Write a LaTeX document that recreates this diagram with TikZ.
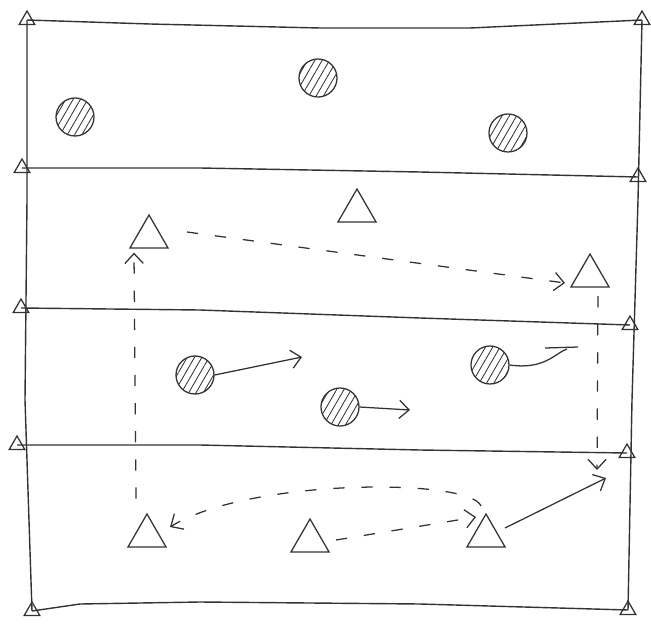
\documentclass[tikz,border=0pt]{standalone}
\usetikzlibrary{shapes.geometric, arrows.meta, patterns.meta, calc}

\begin{document}
\begin{tikzpicture}[x=0.025cm, y=-0.025cm,
  pencil/.style={draw=black!80, line width=0.9pt},
  cone/.style={pencil, regular polygon, regular polygon sides=3,
               minimum size=0.45cm, inner sep=0pt},
  attacker/.style={pencil, regular polygon, regular polygon sides=3,
                   minimum size=1.1cm, inner sep=0pt},
  defender/.style={pencil, circle, minimum size=0.95cm, inner sep=0pt,
                   pattern={Lines[angle=60, distance=4.5pt, line width=0.6pt]},
                   pattern color=black!80},
  fieldline/.style={pencil, line width=1pt},
  run/.style={pencil, -{Straight Barb[length=7pt, width=13pt]}},
  pass/.style={run, dash pattern=on 8pt off 12pt}
]
  \useasboundingbox (0,0) rectangle (651,631);

  %% Cones: left and right side of each zone line
  \node[cone] (c1)  at (27,20)   {};
  \node[cone] (c2)  at (642,20)  {};
  \node[cone] (c3)  at (22,168)  {};
  \node[cone] (c4)  at (638,177) {};
  \node[cone] (c5)  at (21,308)  {};
  \node[cone] (c6)  at (630,325) {};
  \node[cone] (c7)  at (17,445)  {};
  \node[cone] (c8)  at (627,453) {};
  \node[cone] (c9)  at (32,611)  {};
  \node[cone] (c10) at (628,610) {};

  %% Field outline and zone lines (slightly wobbly, hand drawn)
  \draw[fieldline] (c1.center) -- (150,24) -- (320,28) -- (470,28) -- (c2.center);
  \draw[fieldline] (c3.center) -- (200,168) -- (420,172) -- (c4.center);
  \draw[fieldline] (c5.center) -- (200,310) -- (420,318) -- (c6.center);
  \draw[fieldline] (c7.center) -- (200,445) -- (420,450) -- (c8.center);
  \draw[fieldline] (c9.center) -- (80,604) -- (200,602) -- (420,604) -- (c10.center);
  \draw[fieldline] (c1.center) -- (27,200) -- (25,400) -- (c9.center);
  \draw[fieldline] (c2.center) -- (638,200) -- (632,400) -- (c10.center);

  %% Defenders (hatched)
  \node[defender] (b1) at (75,117)  {};
  \node[defender] (b2) at (318,78)  {};
  \node[defender] (b3) at (508,133) {};
  \node[defender] (b4) at (195,375) {};
  \node[defender] (b5) at (490,365) {};
  \node[defender] (b6) at (340,407) {};

  %% Attackers (triangles)
  \node[attacker] (t1) at (149,237) {};
  \node[attacker] (t2) at (357,211) {};
  \node[attacker] (t3) at (590,276) {};
  \node[attacker] (t4) at (147,536) {};
  \node[attacker] (t5) at (310,541) {};
  \node[attacker] (t6) at (486,536) {};

  %% Free ends of the runs
  \coordinate (e1)  at (302,357);
  \coordinate (e2)  at (410,410);
  \coordinate (e3)  at (567,349);
  \coordinate (e3a) at (545,348);
  \coordinate (e3b) at (578,347);
  \coordinate (e4)  at (597,470);
  \coordinate (e5)  at (606,478);

  %% Defender runs
  \draw[run] (b4.east) -- (e1);
  \draw[run] (b6.east) -- (e2);
  \draw[pencil] (b5.east) .. controls (545,370) and (555,353) .. (e3);
  \draw[pencil] (e3a) -- (e3b);

  %% Attacker moves and passes
  \draw[pass] ($(t4.north)+(-11,-14)$) -- ($(t1.south)+(-15,4)$);
  \draw[pass] ($(t1.center)+(38,-5)$) -- ($(t3.center)+(-25,7)$);
  \draw[pass] ($(t3.center)+(8,20)$) -- (e4);
  \draw[run]  ($(t6.center)+(19,-8)$) -- (e5);
  \draw[pass] ($(t6.center)+(-5,-30)$) .. controls (470,478) and (250,478) .. ($(t4.center)+(23,-9)$);
  \draw[pass] ($(t5.center)+(26,-1)$) -- ($(t6.center)+(-10,-19)$);
\end{tikzpicture}
\end{document}
